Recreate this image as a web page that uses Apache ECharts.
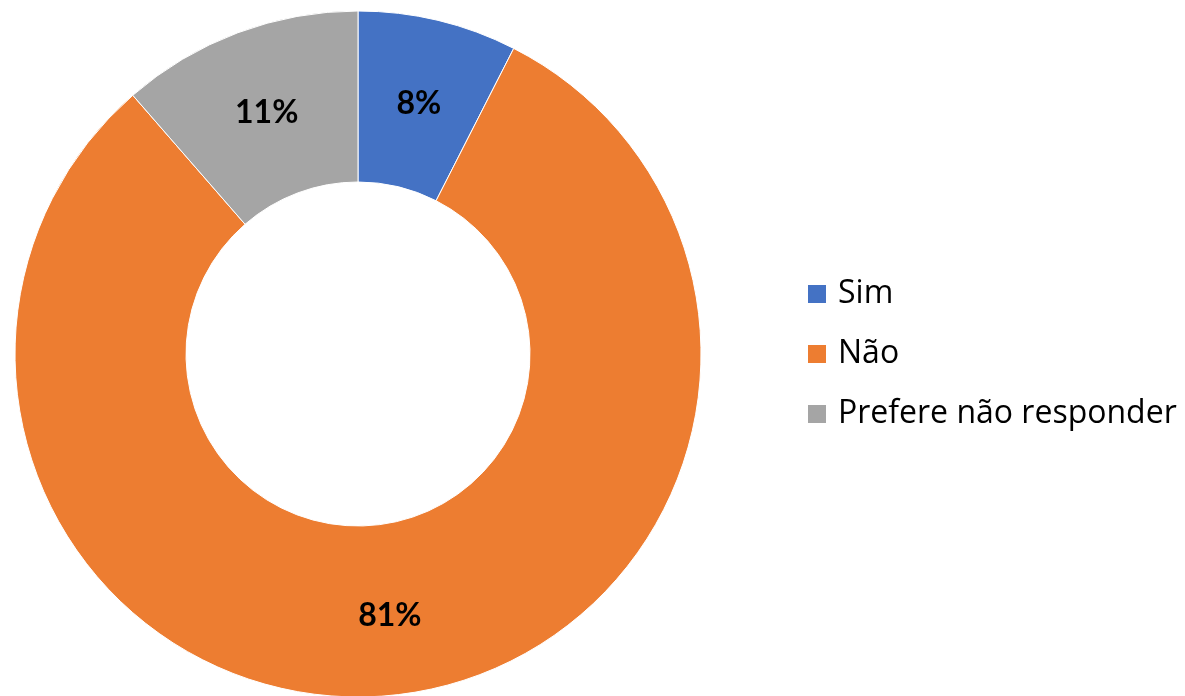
<!DOCTYPE html>
<html>
<head>
<meta charset="utf-8">
<script src="https://cdn.jsdelivr.net/npm/echarts@6/dist/echarts.min.js"></script>
<style>html,body{margin:0;padding:0;background:#fff}#c{width:1185px;height:696px}</style>
</head>
<body>
<div id="c"></div>
<script>
var categories = ['Sim', 'Não', 'Prefere não responder'];
var values = [7.5, 81.1, 11.4];
var colors = ['#4472C4', '#ED7D31', '#A5A5A5'];

var chart = echarts.init(document.getElementById('c'), null, {renderer: 'canvas'});
chart.setOption({
  animation: false,
  color: colors,
  legend: {
    orient: 'vertical',
    left: 806,
    top: 278,
    padding: 0,
    itemWidth: 20,
    itemHeight: 20,
    itemGap: 28,
    icon: 'rect',
    data: categories,
    textStyle: {fontFamily: 'Open Sans', fontSize: 32, color: '#000', padding: [0, 0, 0, 6]}
  },
  series: [{
    type: 'pie',
    center: [358, 354],
    radius: [172, 343],
    startAngle: 90,
    clockwise: true,
    avoidLabelOverlap: false,
    itemStyle: {borderColor: '#fff', borderWidth: 1},
    label: {
      show: true,
      position: 'inside',
      formatter: function (p) { return Math.round(p.value) + '%'; },
      fontFamily: 'Lato',
      fontWeight: 'bold',
      fontSize: 32,
      color: '#000',
      offset: [0, 3]
    },
    labelLine: {show: false},
    emphasis: {disabled: true},
    data: categories.map(function (c, i) { return {name: c, value: values[i]}; })
  }]
});
</script>
</body>
</html>
